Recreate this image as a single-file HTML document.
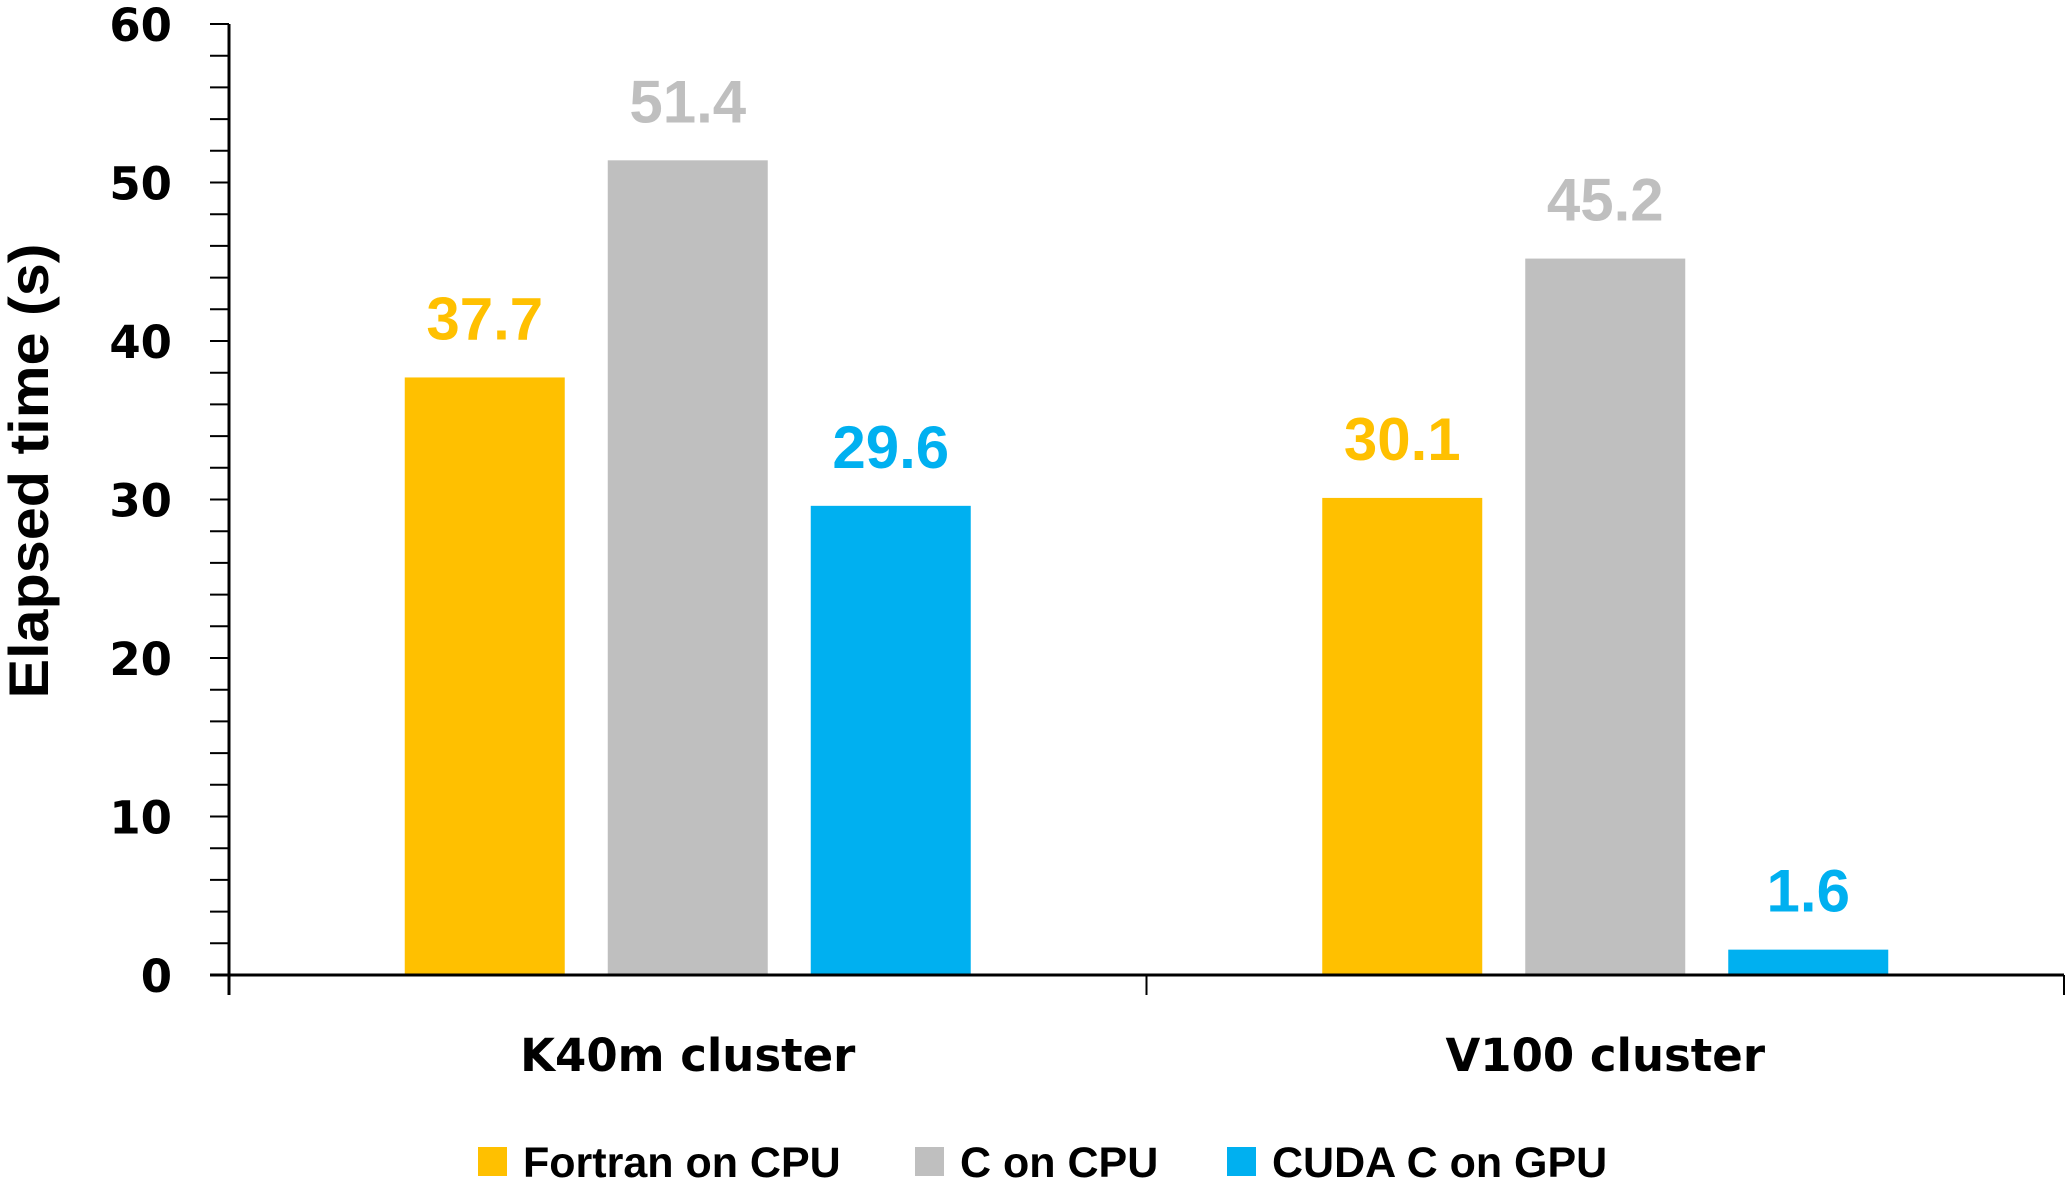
<!DOCTYPE html>
<html><head><meta charset="utf-8"><style>
html,body{margin:0;padding:0;background:#fff;}
svg{display:block;}
</style></head><body>
<svg id="chart" width="2067" height="1178" viewBox="0 0 2067 1178" xmlns="http://www.w3.org/2000/svg"></svg>
<script>
const categories = ["K40m cluster", "V100 cluster"];
const seriesNames = ["Fortran on CPU", "C on CPU", "CUDA C on GPU"];
const fortranValues = [37.7, 30.1];
const cValues = [51.4, 45.2];
const cudaValues = [29.6, 1.6];
const yTicks = [0, 10, 20, 30, 40, 50, 60];
const colors = ["#FFC000", "#BFBFBF", "#00B0F0"];
const labelColors = ["#FFC000", "#BFBFBF", "#00B0F0"];

const NS = "http://www.w3.org/2000/svg";
const svg = document.getElementById("chart");
const X0 = 229, X1 = 2064, Y0 = 975, Ytop = 24, YMAX = 60;
function yScale(v){ return Y0 - (v / YMAX) * (Y0 - Ytop); }
const groupW = (X1 - X0) / categories.length;
const barW = 160, barStep = 203;
function barX(ci, si){ return X0 + groupW * ci + groupW / 2 - barStep + si * barStep - barW / 2; }
function el(tag, attrs, text){
  const e = document.createElementNS(NS, tag);
  for (const k in attrs) e.setAttribute(k, attrs[k]);
  if (text !== undefined) e.textContent = text;
  svg.appendChild(e);
  return e;
}
const series = [fortranValues, cValues, cudaValues];
series.forEach((vals, si) => {
  vals.forEach((v, ci) => {
    const x = barX(ci, si);
    const r = el("rect", {x: x, y: yScale(v), width: barW, height: Y0 - yScale(v), fill: colors[si]});
    
    
    const t = el("text", {x: x + barW / 2, y: yScale(v) - 38, "text-anchor": "middle", fill: labelColors[si],
      "font-family": "Liberation Sans, sans-serif", "font-weight": "bold", "font-size": "60"}, v.toFixed(1));
    
    
  });
});
const ya = el("line", {x1: X0, y1: Ytop, x2: X0, y2: 995, stroke: "#000", "stroke-width": 3});


for (let v = 0; v <= YMAX; v += 2) {
  const tk = el("line", {x1: X0 - 19, y1: yScale(v), x2: X0, y2: yScale(v), stroke: "#000", "stroke-width": 2});
  
  
}
yTicks.forEach(v => {
  const t = el("text", {x: 172, y: yScale(v) + 17, "text-anchor": "end", "font-family": "DejaVu Sans, sans-serif",
    "font-weight": "bold", "font-size": "45", fill: "#000"}, String(v));
  
  
});
const xa = el("line", {x1: X0 - 19, y1: Y0, x2: X1, y2: Y0, stroke: "#000", "stroke-width": 3});


for (let i = 1; i <= categories.length; i++) {
  const tk = el("line", {x1: X0 + groupW * i, y1: Y0, x2: X0 + groupW * i, y2: 995, stroke: "#000", "stroke-width": 2});
  
  
}
categories.forEach((c, ci) => {
  const t = el("text", {x: X0 + groupW * ci + groupW / 2, y: 1071, "text-anchor": "middle", "font-family": "DejaVu Sans, sans-serif",
    "font-weight": "bold", "font-size": "45", fill: "#000"}, c);
  
  
});
const yt = el("text", {x: 0, y: 0, transform: "translate(48,471) rotate(-90)", "text-anchor": "middle",
  "font-family": "Liberation Sans, sans-serif", "font-weight": "bold", "font-size": "56", fill: "#000",
  textLength: "455", lengthAdjust: "spacingAndGlyphs"}, "Elapsed time (s)");


const legX = [478, 915, 1227];
seriesNames.forEach((n, si) => {
  const s = el("rect", {x: legX[si], y: 1147, width: 29, height: 29, fill: colors[si]});
  
  
  const t = el("text", {x: legX[si] + 45, y: 1177, "font-family": "Liberation Sans, sans-serif",
    "font-weight": "bold", "font-size": "43", fill: "#000"}, n);
  
  
});
</script>
</body></html>
